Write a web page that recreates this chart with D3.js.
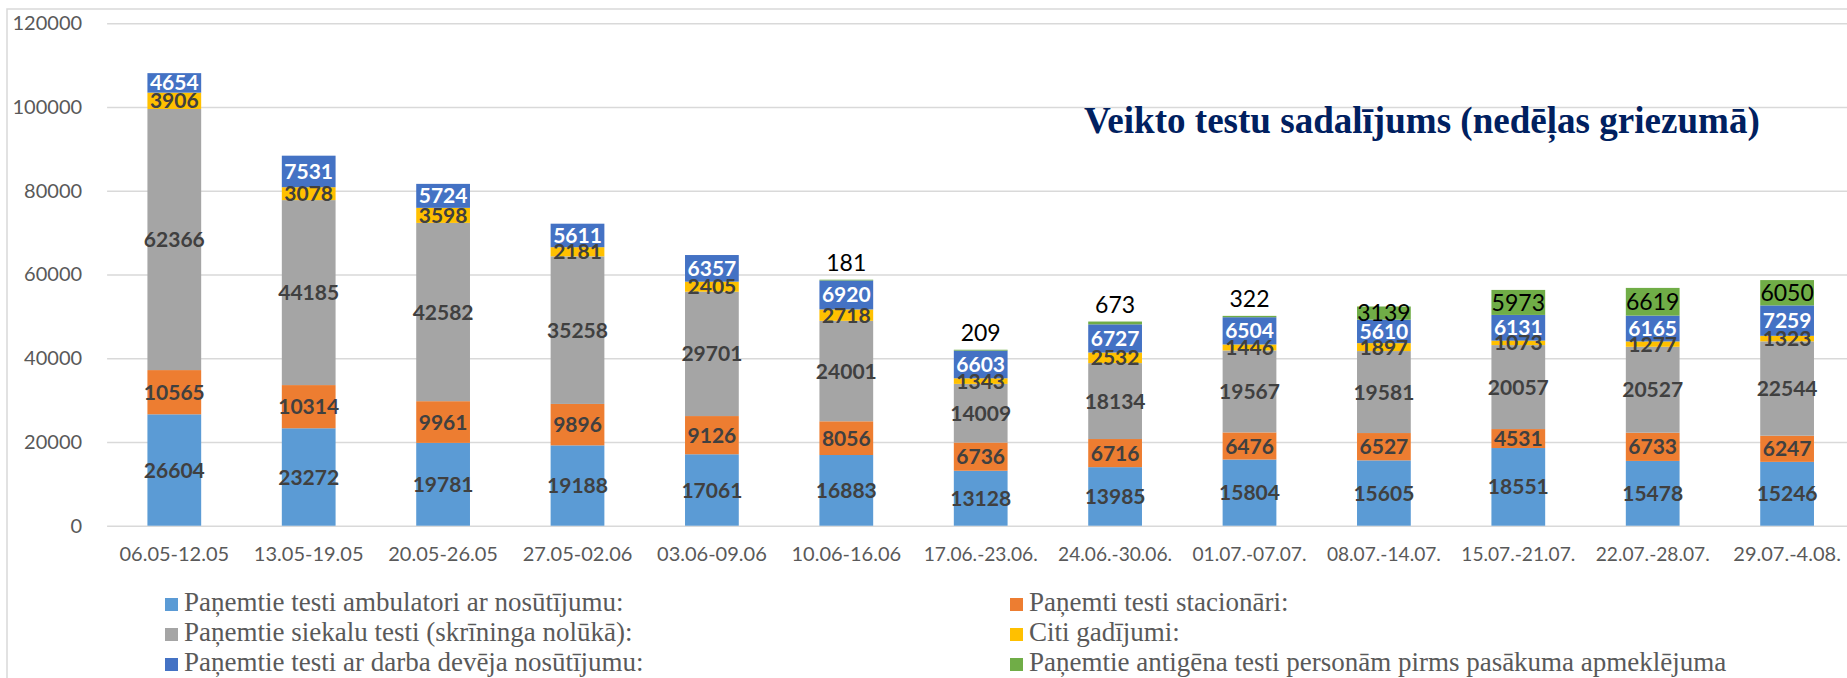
<!DOCTYPE html>
<html>
<head>
<meta charset="utf-8">
<script src="https://cdn.jsdelivr.net/npm/d3@7"></script>
<style>
  html, body { margin: 0; padding: 0; background: #ffffff; }
  svg { display: block; }
</style>
</head>
<body>
<svg id="chart" width="1847" height="678"></svg>
<script>
// ---------- data ----------
const categories = ["06.05-12.05","13.05-19.05","20.05-26.05","27.05-02.06","03.06-09.06","10.06-16.06",
  "17.06.-23.06.","24.06.-30.06.","01.07.-07.07.","08.07.-14.07.","15.07.-21.07.","22.07.-28.07.","29.07.-4.08."];
const ambulatori = [26604,23272,19781,19188,17061,16883,13128,13985,15804,15605,18551,15478,15246];
const stacionari = [10565,10314,9961,9896,9126,8056,6736,6716,6476,6527,4531,6733,6247];
const siekalu    = [62366,44185,42582,35258,29701,24001,14009,18134,19567,19581,20057,20527,22544];
const citi       = [3906,3078,3598,2181,2405,2718,1343,2532,1446,1897,1073,1277,1323];
const darba      = [4654,7531,5724,5611,6357,6920,6603,6727,6504,5610,6131,6165,7259];
const antigena   = [0,0,0,0,0,181,209,673,322,3139,5973,6619,6050];
const seriesNames = [
  "Paņemtie testi ambulatori ar nosūtījumu:",
  "Paņemti testi stacionāri:",
  "Paņemtie siekalu testi (skrīninga nolūkā):",
  "Citi gadījumi:",
  "Paņemtie testi ar darba devēja nosūtījumu:",
  "Paņemtie antigēna testi personām pirms pasākuma apmeklējuma"
];
const yTicks = [0,20000,40000,60000,80000,100000,120000];
const title = "Veikto testu sadalījums (nedēļas griezumā)";

// ---------- styling ----------
const colors = ["#5B9BD5","#ED7D31","#A5A5A5","#FFC000","#4472C4","#70AD47"];
const labelFill = ["#404040","#404040","#404040","#404040","#ffffff","#000000"];
const seriesData = [ambulatori, stacionari, siekalu, citi, darba, antigena];
const keys = ["amb","stac","siek","citi","darba","antig"];

const rows = categories.map((c, i) => {
  const o = {cat: c};
  keys.forEach((k, j) => o[k] = seriesData[j][i]);
  return o;
});
const stacked = d3.stack().keys(keys)(rows);

const svg = d3.select("#chart");
const plotLeft = 107.1, plotBottom = 525.7, plotTop = 23.3;
const step = 134.4;

const x = d3.scaleBand().domain(categories)
  .range([plotLeft, plotLeft + step * categories.length])
  .paddingInner(0.6).paddingOuter(0.3);
const y = d3.scaleLinear().domain([0, 120000]).range([plotBottom, plotTop]);

// chart border
svg.append("rect").attr("x", 7).attr("y", 9).attr("width", 1900).attr("height", 700)
  .attr("fill", "none").attr("stroke", "#d9d9d9").attr("stroke-width", 1.5);

// y axis with gridlines
const yAxis = svg.append("g").attr("transform", `translate(${plotLeft},0)`)
  .call(d3.axisLeft(y).tickValues(yTicks).tickFormat(d3.format("d"))
    .tickSize(-(1847 - plotLeft)).tickPadding(25));
yAxis.select(".domain").remove();
yAxis.selectAll(".tick line").attr("stroke", "#d9d9d9").attr("stroke-width", 1.5);
yAxis.selectAll(".tick text").attr("fill", "#595959")
  .style("font-family", "Lato, 'Open Sans', sans-serif").style("font-size", "20px");

// x axis
const xAxis = svg.append("g").attr("transform", `translate(0,${plotBottom})`)
  .call(d3.axisBottom(x).tickSize(0).tickPadding(21));
xAxis.select(".domain").remove();
xAxis.selectAll(".tick text").attr("fill", "#595959")
  .style("font-family", "Lato, 'Open Sans', sans-serif").style("font-size", "20px")
  .each(function() {
    const w = this.getComputedTextLength();
    if (w > 114) d3.select(this).attr("textLength", 114).attr("lengthAdjust", "spacingAndGlyphs");
  });

// bars
const groups = svg.append("g").selectAll("g").data(stacked).join("g")
  .attr("fill", (d, i) => colors[i]);
groups.selectAll("rect").data(d => d).join("rect")
  .attr("x", d => x(d.data.cat))
  .attr("width", x.bandwidth())
  .attr("y", d => y(d[1]))
  .attr("height", d => Math.max(0, y(d[0]) - y(d[1])));

// labels
const labelLayer = svg.append("g");
stacked.forEach((s, si) => {
  s.forEach(d => {
    const v = d[1] - d[0];
    if (!v) return;
    const cx = x(d.data.cat) + x.bandwidth() / 2;
    const segH = y(d[0]) - y(d[1]);
    const t = labelLayer.append("text")
      .attr("x", cx)
      .attr("text-anchor", "middle")
      .style("font-family", "Lato, 'Open Sans', sans-serif")
      .text(v);
    if (si === 5) {
      t.style("font-size", "23px").attr("fill", "#000");
      if (segH < 10) {
        t.attr("y", y(d[1]) - 9);
      } else {
        t.attr("y", (y(d[0]) + y(d[1])) / 2).attr("dy", "0.36em");
      }
    } else {
      t.style("font-size", "21px").style("font-weight", "bold").attr("fill", labelFill[si])
        .attr("y", (y(d[0]) + y(d[1])) / 2).attr("dy", "0.36em");
    }
  });
});

// title
const tt = svg.append("text").attr("x", 1084).attr("y", 132.7)
  .attr("fill", "#002060")
  .style("font-family", "'Liberation Serif', 'Times New Roman', serif")
  .style("font-weight", "bold").style("font-size", "36px")
  .text(title);
const tw = tt.node().getComputedTextLength();
tt.style("font-size", (36 * 676 / tw) + "px");

// legend
const legCols = [165, 1010];
const legRows = [611, 641, 671];
const legend = svg.append("g");
seriesNames.forEach((name, i) => {
  const col = i % 2, row = Math.floor(i / 2);
  const gx = legCols[col], gy = legRows[row];
  legend.append("rect").attr("x", gx).attr("y", gy - 13).attr("width", 13).attr("height", 13)
    .attr("fill", colors[i]);
  legend.append("text").attr("x", gx + 19).attr("y", gy)
    .attr("fill", "#595959")
    .style("font-family", "'Liberation Serif', 'Times New Roman', serif")
    .style("font-size", "27px")
    .text(name);
});
</script>
</body>
</html>
